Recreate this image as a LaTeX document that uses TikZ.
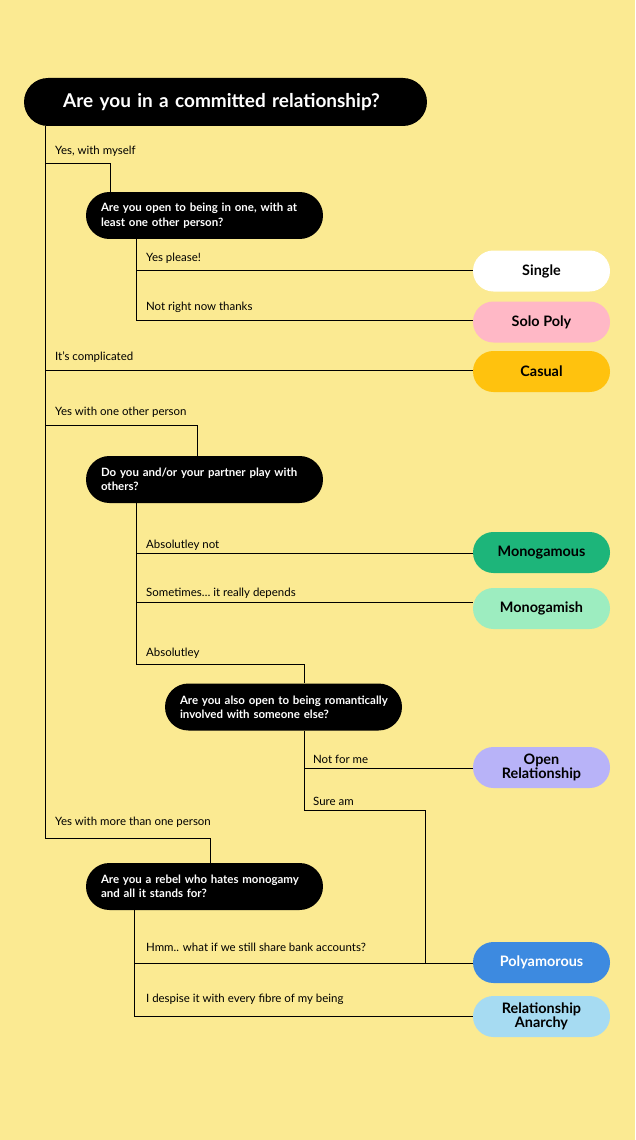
\documentclass[tikz,border=0pt]{standalone}
\usepackage{fontspec}
\setmainfont{Lato}
\usepackage{xcolor}
\usetikzlibrary{positioning}
\definecolor{bgyellow}{HTML}{FBEA92}
\definecolor{pinkans}{HTML}{FFB8C6}
\definecolor{goldans}{HTML}{FFC20E}
\definecolor{greenans}{HTML}{1DB57A}
\definecolor{mintans}{HTML}{9DEDC0}
\definecolor{lilacans}{HTML}{B8B3F8}
\definecolor{blueans}{HTML}{3D8AE0}
\definecolor{skyans}{HTML}{A6DBF2}

\begin{document}
\begin{tikzpicture}[
    x=0.05cm, y=-0.05cm,
    question/.style={rectangle, fill=black, text=white, rounded corners=1.17cm, minimum height=2.35cm, minimum width=11.85cm, inner xsep=0.75cm, font=\fontsize{16.3}{20.5}\selectfont\bfseries, align=left, text width=10.35cm},
    answer/.style={rectangle, rounded corners=1.02cm, minimum height=2.05cm, minimum width=6.85cm, inner sep=0pt, font=\fontsize{20.5}{18}\selectfont\bfseries, align=center},
    choice/.style={anchor=south west, inner sep=0pt, font=\fontsize{16.3}{18}\selectfont},
    connector/.style={line width=0.9pt},
]
    % Background
    \fill[bgyellow] (0,0) rectangle (635,1140);

    % Questions
    \node[question, minimum width=20.15cm, minimum height=2.4cm, rounded corners=1.2cm, text width=18cm, align=center, font=\fontsize{27}{30}\selectfont\bfseries] (q1) at (225.5,102) {\hspace*{-0.4cm}Are you in a committed relationship?};
    \node[question] (q2) at (204.5,215.5) {Are you open to being in one, with at\\least one other person?};
    \node[question] (q3) at (204.5,479.5) {Do you and/or your partner play with\\others?};
    \node[question] (q4) at (283.5,707) {\mbox{Are you also open to being romantically}\\involved with someone else?};
    \node[question] (q5) at (204.5,886.5) {Are you a rebel who hates monogamy\\and all it stands for?};

    % Answers
    \node[answer, fill=white] (single) at (541.5,271) {Single};
    \node[answer, fill=pinkans] (solo) at (541.5,322) {Solo Poly};
    \node[answer, fill=goldans] (casual) at (541.5,371.5) {Casual};
    \node[answer, fill=greenans] (mono) at (541.5,552.5) {Monogamous};
    \node[answer, fill=mintans] (monoish) at (541.5,608.5) {Monogamish};
    \node[answer, fill=lilacans, font=\fontsize{20.5}{18}\selectfont\bfseries] (open) at (541.5,767.5) {Open\\Relationship};
    \node[answer, fill=blueans, text=white] (poly) at (541.5,962.5) {Polyamorous};
    \node[answer, fill=skyans, font=\fontsize{20.5}{18}\selectfont\bfseries] (anarchy) at (541.5,1016.5) {Relationship\\Anarchy};

    % Bend points
    \coordinate (t1) at (45,126);
    \coordinate (m1) at (45,163);
    \coordinate (m2) at (45,370);
    \coordinate (m3) at (45,425);
    \coordinate (m4) at (45,838);
    \coordinate (s1) at (136,270);
    \coordinate (s2) at (136,320);
    \coordinate (n1) at (136,553);
    \coordinate (n2) at (136,602);
    \coordinate (n3) at (136,664);
    \coordinate (r1) at (304,768);
    \coordinate (r2) at (304,810);
    \coordinate (p1) at (134,963);
    \coordinate (p2) at (134,1016);

    % Connect everything
    \draw[connector] (t1) -- (m4) -| (q5.north -| 210,0);
    \draw[connector] (m1) -| (q2.north -| 110,0);
    \draw[connector] (m2) -- (m2 -| casual.west);
    \draw[connector] (m3) -| (q3.north -| 197,0);
    \draw[connector] (q2.south -| s1) -- (s2) -- (s2 -| solo.west);
    \draw[connector] (s1) -- (s1 -| single.west);
    \draw[connector] (q3.south -| n1) -- (n3) -| (q4.north -| r1);
    \draw[connector] (n1) -- (n1 -| mono.west);
    \draw[connector] (n2) -- (n2 -| monoish.west);
    \draw[connector] (q4.south -| r1) -- (r2) -| (425,963);
    \draw[connector] (r1) -- (r1 -| open.west);
    \draw[connector] (q5.south -| p1) -- (p2) -- (p2 -| anarchy.west);
    \draw[connector] (p1) -- (p1 -| poly.west);

    % Labels
    \node[choice] at (55,157) {Yes, with myself};
    \node[choice] at (146,264) {Yes please!};
    \node[choice] at (146,313) {Not right now thanks};
    \node[choice] at (55,363) {It’s complicated};
    \node[choice] at (55,418) {Yes with one other person};
    \node[choice] at (146,551) {Absolutley not};
    \node[choice] at (146,599) {Sometimes… it really depends};
    \node[choice] at (146,659) {Absolutley};
    \node[choice] at (313,764) {Not for me};
    \node[choice] at (313,806) {Sure am};
    \node[choice] at (55,828) {Yes with more than one person};
    \node[choice] at (146,952) {Hmm.. what if we still share bank accounts?};
    \node[choice] at (146,1005) {I despise it with every fibre of my being};
\end{tikzpicture}
\end{document}
